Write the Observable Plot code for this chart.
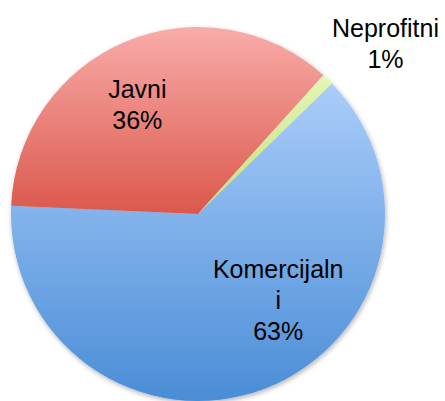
<!DOCTYPE html>
<html><head><meta charset="utf-8">
<script src="https://cdn.jsdelivr.net/npm/d3@7"></script>
<script src="https://cdn.jsdelivr.net/npm/@observablehq/plot@0.6"></script>
<style>html,body{margin:0;padding:0;background:#fff}svg{display:block}</style>
</head><body><div id="chart"></div>
<script>
// ---- data ----
const categories = ["Komercijalni", "Javni", "Neprofitni"];
const values = [63, 36, 1];
const labelLines = [["Komercijaln", "i", "63%"], ["Javni", "36%"], ["Neprofitni", "1%"]];

// ---- styling / layout ----
const W = 445, H = 401;
const cx = 198, cy = 214, R = 187;
const startDeg = 45.7;
const gradTop = ["#aacdfa", "#f9aca9", "#e4f6b4"];
const gradBottom = ["#4a8dd6", "#db584c", "#c4e07c"];
// label placement in polar terms (angle clockwise from north, distance from centre)
const labelAngle = [136.6, 331.2, 47.4];
const labelDist = [116, 127, 254];

const data = categories.map((c, i) => ({category: c, value: values[i], text: labelLines[i].join("\n"), i}));
const start = startDeg * Math.PI / 180;
const slices = d3.pie().sort(null).value(d => d.value).startAngle(start).endAngle(start + 2 * Math.PI)(data);
const arc = d3.arc().innerRadius(0).outerRadius(R);

const labelData = data.map((d, i) => {
  const a = labelAngle[i] * Math.PI / 180;
  return {...d, lx: cx + labelDist[i] * Math.sin(a), ly: cy - labelDist[i] * Math.cos(a)};
});

function pieMark() {
  const g = d3.create("svg:g");
  const defs = g.append("defs");
  const f = defs.append("filter").attr("id", "shadow").attr("x", "-10%").attr("y", "-10%").attr("width", "120%").attr("height", "120%");
  f.append("feDropShadow").attr("dx", 1).attr("dy", 2).attr("stdDeviation", 2.5).attr("flood-color", "#000").attr("flood-opacity", 0.3);
  slices.forEach((s, i) => {
    const lg = defs.append("linearGradient").attr("id", "grad" + i).attr("x1", 0).attr("y1", 0).attr("x2", 0).attr("y2", 1);
    lg.append("stop").attr("offset", "0%").attr("stop-color", gradTop[i]);
    lg.append("stop").attr("offset", "100%").attr("stop-color", gradBottom[i]);
  });
  const pg = g.append("g").attr("transform", `translate(${cx},${cy})`).attr("filter", "url(#shadow)");
  pg.selectAll("path").data(slices).join("path")
    .attr("d", arc)
    .attr("fill", (d, i) => `url(#grad${i})`)
    .append("title").text(d => `${d.data.category}: ${d.data.value}%`);
  return g.node();
}

const chart = Plot.plot({
  width: W,
  height: H,
  margin: 0,
  x: {type: "linear", domain: [0, W], range: [0, W], axis: null},
  y: {type: "linear", domain: [0, H], range: [0, H], axis: null},
  style: {background: "white"},
  marks: [
    pieMark,
    Plot.text(labelData, {
      x: "lx", y: "ly", text: "text",
      fontSize: 25, lineHeight: 1.24, fill: "#000",
      fontFamily: "Liberation Sans, Arial, Helvetica, sans-serif"
    })
  ]
});
document.getElementById("chart").appendChild(chart);
</script>
</body></html>
